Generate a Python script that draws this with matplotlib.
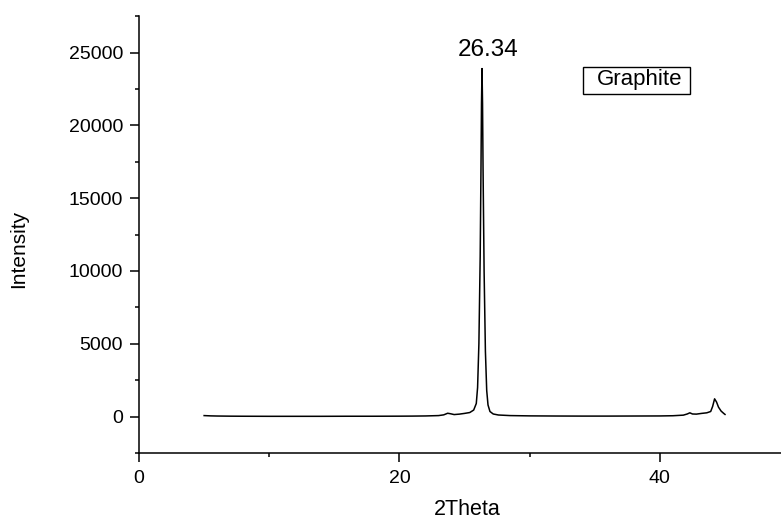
import matplotlib.pyplot as plt
from matplotlib.patches import Rectangle
from matplotlib.ticker import MultipleLocator

plt.rcParams['font.family'] = ['Liberation Sans', 'DejaVu Sans']

# XRD pattern of graphite
two_theta = [5.0, 5.5, 6.0, 7.0, 8.0, 10.0, 12.0, 14.0, 16.0, 18.0, 20.0,
             21.0, 22.0, 23.0, 23.4, 23.7, 23.9, 24.2, 24.6, 25.0, 25.4,
             25.7, 25.9, 26.0, 26.1, 26.2, 26.26, 26.3, 26.34, 26.38, 26.42,
             26.5, 26.6, 26.7, 26.8, 26.95, 27.2, 27.6, 28.5, 30.0, 32.0,
             34.0, 36.0, 38.0, 40.0, 41.0, 41.8, 42.1, 42.3, 42.5, 42.8,
             43.2, 43.6, 43.9, 44.05, 44.2, 44.35, 44.5, 44.7, 44.9, 45.0]
intensity = [70, 50, 40, 30, 25, 20, 20, 20, 25, 25, 30,
             35, 45, 70, 120, 230, 200, 140, 170, 220, 280,
             450, 900, 2000, 5000, 11000, 17000, 21500, 23900, 21500, 17000,
             10000, 4500, 1800, 800, 350, 180, 110, 70, 50, 40,
             35, 35, 40, 45, 60, 100, 180, 260, 180, 170,
             220, 260, 350, 700, 1220, 1000, 650, 380, 220, 150]

peak_pos = 26.34
peak_label = '26.34'
sample = 'Graphite'

fig = plt.figure(figsize=(7.81, 5.21), dpi=100)
ax = fig.add_axes([0.178, 0.1305, 0.822, 0.8385])

ax.plot(two_theta, intensity, color='black', linewidth=1.1)

ax.set_xlim(0, 49.3)
ax.set_ylim(-2500, 27500)
ax.xaxis.set_major_locator(MultipleLocator(20))
ax.xaxis.set_minor_locator(MultipleLocator(10))
ax.yaxis.set_major_locator(MultipleLocator(5000))
ax.yaxis.set_minor_locator(MultipleLocator(2500))

ax.spines['top'].set_visible(False)
ax.spines['right'].set_visible(False)
for s in ('left', 'bottom'):
    ax.spines[s].set_linewidth(1.1)
ax.tick_params(which='major', direction='out', length=6.5, width=1.1, labelsize=14)
ax.tick_params(axis='y', which='major', pad=5)
ax.tick_params(axis='x', which='major', pad=6)
ax.tick_params(which='minor', direction='out', length=3.2, width=1.1)

ax.set_xlabel('2Theta', fontsize=15.5)
ax.set_ylabel('Intensity', fontsize=15)
ax.xaxis.set_label_coords(0.511, -0.105)
ax.yaxis.set_label_coords(-0.173, 0.467)

ax.text(peak_pos + 0.5, 25150, peak_label, fontsize=17.5, ha='center', va='center')

# sample label with its frame
ax.add_patch(Rectangle((34.1, 22180), 8.2, 1860, facecolor='white',
                       edgecolor='black', linewidth=1))
ax.text(38.45, 23130, sample, fontsize=16, ha='center', va='center')

fig.savefig('out.png', dpi=100)
